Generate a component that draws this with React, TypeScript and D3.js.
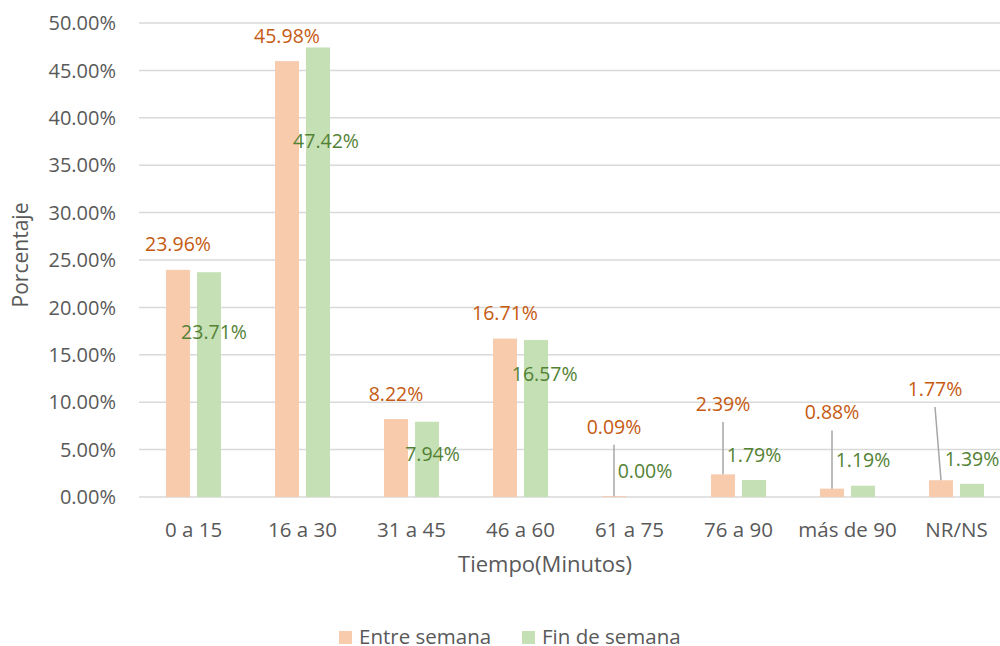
import React from "react";
import * as d3 from "d3";

const categories = ["0 a 15", "16 a 30", "31 a 45", "46 a 60", "61 a 75", "76 a 90", "más de 90", "NR/NS"];
const seriesNames = ["Entre semana", "Fin de semana"];
const entreSemana = [23.96, 45.98, 8.22, 16.71, 0.09, 2.39, 0.88, 1.77];
const finDeSemana = [23.71, 47.42, 7.94, 16.57, 0.0, 1.79, 1.19, 1.39];
const yTicks = [0, 5, 10, 15, 20, 25, 30, 35, 40, 45, 50];

// manual label placement (in data units / px nudges), as in the source chart
const entreLabelY = [26.64, 48.6, 10.86, 19.41, 7.42, 9.81, 8.91, 11.39];
const entreLabelDx = [0, 0, 0, 0, 0, 0, 0, -6];
const entreLeader = [false, false, false, false, true, true, true, true];
const finLabelY = [17.44, 37.52, 4.56, 12.94, 2.71, 4.46, 3.85, 4.01];
const finLabelDx = [5, 8, 5.5, 8.7, 0, 0, 0, 0];

const W = 1000;
const H = 646;
const FONT = "'Open Sans', 'Noto Sans', sans-serif";
const COLORS = ["#F8CBAD", "#C5E0B4"];
const LABEL_COLORS = ["#C55A11", "#548235"];
const TEXT = "#595959";
const GRID = "#D9D9D9";

export default function App() {
  const plotLeft = 139;
  const step = 109;
  const x = d3.scaleBand<string>().domain(categories).range([plotLeft, plotLeft + step * categories.length]).padding(0);
  const bw = x.bandwidth();
  const xs = d3.scaleBand<string>().domain(seriesNames).range([bw * 0.2477, bw * 0.7523]).paddingInner(0.226).paddingOuter(0);
  const y = d3.scaleLinear().domain([0, 50]).range([497, 23]);
  const fmt = (v: number) => v.toFixed(2) + "%";

  const series = [
    { name: seriesNames[0], values: entreSemana, ly: entreLabelY, dx: entreLabelDx, leader: entreLeader },
    { name: seriesNames[1], values: finDeSemana, ly: finLabelY, dx: finLabelDx, leader: categories.map(() => false) },
  ];

  const labelFs = 19.5;
  const capOff = labelFs * 0.357;
  const tickFs = 20;

  return (
    <svg width={W} height={H} style={{ position: "absolute", left: 0, top: 0, background: "#fff" }} fontFamily={FONT}>
      <rect x={0} y={0} width={W} height={H} fill="#fff" />
      {/* gridlines */}
      {yTicks.map((t) => (
        <line key={t} x1={plotLeft} x2={W} y1={y(t)} y2={y(t)} stroke={GRID} strokeWidth={1.5} />
      ))}
      {/* y tick labels */}
      {yTicks.map((t) => (
        <text key={"yt" + t} x={116} y={y(t) + tickFs * 0.357} textAnchor="end" fontSize={tickFs} fill={TEXT}>
          {t.toFixed(2) + "%"}
        </text>
      ))}
      {/* bars */}
      {series.map((s, si) =>
        categories.map((c, i) => (
          <rect
            key={s.name + c}
            x={(x(c) as number) + (xs(s.name) as number)}
            y={y(s.values[i])}
            width={xs.bandwidth()}
            height={y(0) - y(s.values[i])}
            fill={COLORS[si]}
          />
        ))
      )}
      {/* leader lines */}
      {series.map((s) =>
        categories.map((c, i) => {
          if (!s.leader[i]) return null;
          const bx = (x(c) as number) + (xs(s.name) as number) + xs.bandwidth() / 2;
          const lx = bx + s.dx[i];
          return (
            <line key={"ld" + s.name + c} x1={lx} y1={y(s.ly[i]) + 18} x2={bx} y2={y(s.values[i])} stroke="#A6A6A6" strokeWidth={1.5} />
          );
        })
      )}
      {/* data labels */}
      {series.map((s, si) =>
        categories.map((c, i) => {
          const bx = (x(c) as number) + (xs(s.name) as number) + xs.bandwidth() / 2;
          return (
            <text key={"lb" + s.name + c} x={bx + s.dx[i]} y={y(s.ly[i]) + capOff} textAnchor="middle" fontSize={labelFs} fill={LABEL_COLORS[si]}>
              {fmt(s.values[i])}
            </text>
          );
        })
      )}
      {/* x tick labels */}
      {categories.map((c) => (
        <text key={"xt" + c} x={(x(c) as number) + bw / 2} y={536.5} textAnchor="middle" fontSize={20.5} fill={TEXT}>
          {c}
        </text>
      ))}
      {/* axis titles */}
      <text x={545} y={572} textAnchor="middle" fontSize={22} fill={TEXT}>
        Tiempo(Minutos)
      </text>
      <text transform="translate(28,255) rotate(-90)" textAnchor="middle" fontSize={21} fill={TEXT}>
        Porcentaje
      </text>
      {/* legend */}
      {seriesNames.map((n, i) => {
        const lx = [339, 522][i];
        return (
          <g key={"lg" + n}>
            <rect x={lx} y={631} width={13} height={13} fill={COLORS[i]} />
            <text x={lx + 20} y={643.5} fontSize={20.5} fill={TEXT}>
              {n}
            </text>
          </g>
        );
      })}
    </svg>
  );
}
